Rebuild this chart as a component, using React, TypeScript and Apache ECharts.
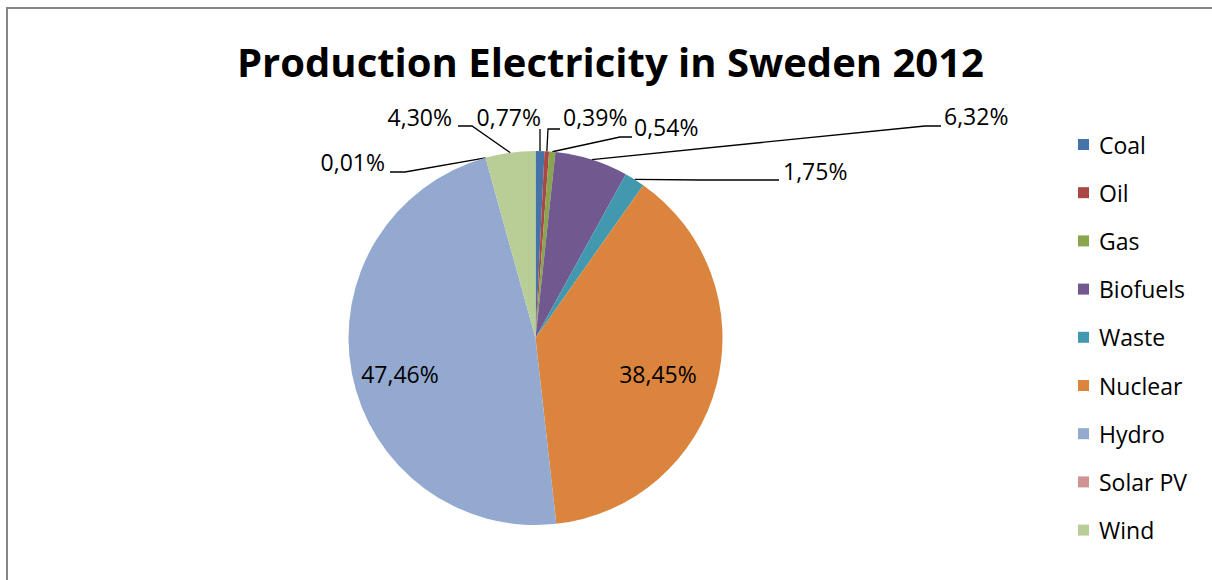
import React, { useEffect, useRef } from "react";
import * as echarts from "echarts";

const categories = ["Coal", "Oil", "Gas", "Biofuels", "Waste", "Nuclear", "Hydro", "Solar PV", "Wind"];
const shares = [0.77, 0.39, 0.54, 6.32, 1.75, 38.45, 47.46, 0.01, 4.3];
const colors = ["#4572A7", "#AA4643", "#89A54E", "#71588F", "#4198AF", "#DB843D", "#93A9CF", "#D19392", "#B9CD96"];
const titleText = "Production Electricity in Sweden 2012";

const FONT = "'Open Sans', sans-serif";
const CX = 535.5;
const CY = 338;
const R = 187;

type LP = { x: number; y: number; align: "left" | "right" | "center"; pts?: number[][]; inside?: boolean };
const labelPlacement: LP[] = [
  { x: 541, y: 117, align: "right", pts: [[540, 136], [540, 129]] },
  { x: 563, y: 117, align: "left", pts: [[548, 129], [560, 129]] },
  { x: 634, y: 127, align: "left", pts: [[620, 137], [632, 137]] },
  { x: 944, y: 116, align: "left", pts: [[925, 126], [941, 126]] },
  { x: 783, y: 171, align: "left", pts: [[700, 180], [779, 180]] },
  { x: 658, y: 374, align: "center", inside: true },
  { x: 400, y: 374, align: "center", inside: true },
  { x: 385, y: 162, align: "right", pts: [[405, 172], [390, 172]] },
  { x: 452, y: 117, align: "right", pts: [[472, 126], [458, 126]] },
];

const fmt = (v: number) => v.toFixed(2).replace(".", ",") + "%";

export default function App() {
  const ref = useRef<HTMLDivElement>(null);
  useEffect(() => {
    if (!ref.current) return;
    const chart = echarts.init(ref.current, null, { renderer: "svg" });
    const total = shares.reduce((a, b) => a + b, 0);
    const cum: number[] = [];
    let acc = 0;
    shares.forEach((v) => {
      cum.push(acc + v / 2);
      acc += v;
    });
    const anchor = (i: number) => {
      const a = (cum[i] / total) * Math.PI * 2;
      return [CX + R * Math.sin(a), CY - R * Math.cos(a)];
    };
    chart.setOption({
      animation: false,
      backgroundColor: "#ffffff",
      title: {
        text: titleText,
        left: 232,
        top: 36,
        textStyle: { fontFamily: FONT, fontWeight: "bold", fontSize: 40, color: "#000" },
      },
      legend: {
        orient: "vertical",
        left: 1073,
        top: 128,
        icon: "rect",
        itemWidth: 11,
        itemHeight: 11,
        itemGap: 25.2,
        data: categories,
        textStyle: { fontFamily: FONT, fontSize: 23, lineHeight: 23, color: "#000", padding: [0, 0, 0, 5] },
      },
      graphic: [
        {
          type: "rect",
          shape: { x: 7, y: 8, width: 1400, height: 800 },
          style: { fill: "none", stroke: "#868686", lineWidth: 2 },
          silent: true,
        },
      ],
      series: [
        {
          type: "pie",
          center: [CX, CY],
          radius: R,
          startAngle: 90,
          clockwise: true,
          avoidLabelOverlap: false,
          color: colors,
          itemStyle: { borderWidth: 0 },
          label: {
            show: true,
            position: "outside",
            fontFamily: FONT,
            fontSize: 23,
            color: "#000",
            formatter: (p: any) => fmt(p.value),
          },
          labelLine: { show: true, lineStyle: { color: "#000", width: 1.3 } },
          labelLayout: (params: any) => {
            const i = params.dataIndex;
            const L = labelPlacement[i];
            if (!L) return {};
            const out: any = { x: L.x, y: L.y, align: L.align, verticalAlign: "middle" };
            if (!L.inside && L.pts) {
              const a = params.labelLinePoints && params.labelLinePoints[0] ? params.labelLinePoints[0] : anchor(i);
              out.labelLinePoints = [a, ...L.pts];
            }
            return out;
          },
          data: categories.map((name, i) => ({
            name,
            value: shares[i],
            labelLine: { show: !labelPlacement[i].inside },
          })),
        },
      ],
    });
    return () => chart.dispose();
  }, []);
  return <div ref={ref} style={{ position: "fixed", left: 0, top: 0, width: 1212, height: 580 }} />;
}
